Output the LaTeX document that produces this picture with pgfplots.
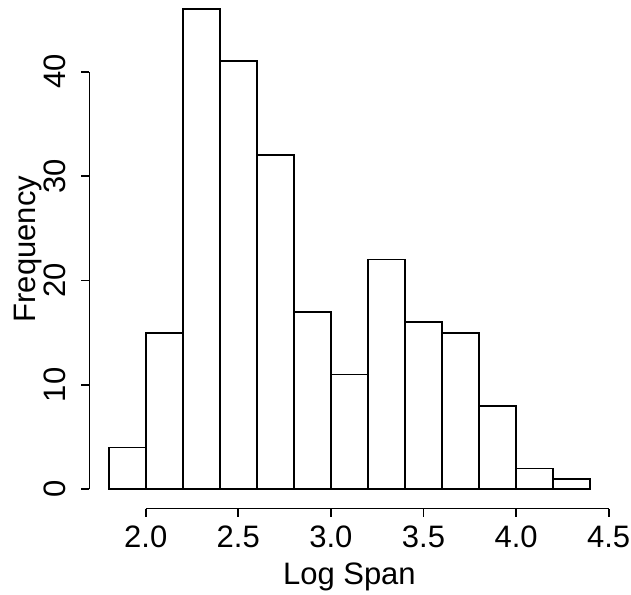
\documentclass[border=0pt]{standalone}
\usepackage{fontspec}
\setmainfont{Liberation Sans}
\usepackage{pgfplots}
\pgfplotsset{compat=1.18}

\begin{document}
\begin{tikzpicture}
\begin{axis}[
    at={(0,0)}, anchor=south west,
    scale only axis,
    width=520pt, height=518.7pt,
    xmin=1.696, xmax=4.504,
    ymin=-1.84, ymax=47.84,
    clip=false,
    axis x line*=bottom, axis y line*=left,
    axis line style={draw=none},
    tick align=outside,
    major tick length=8pt,
    tick style={black, line width=1.7pt},
    xtick={2,2.5,3,3.5,4,4.5},
    ytick={0,10,20,30,40},
    minor tick num=0,
    /pgf/number format/assume math mode=true,
    xticklabel style={font=\fontsize{31}{37}\selectfont, inner sep=0pt, anchor=north, yshift=-9.5pt,
      /pgf/number format/.cd, fixed, fixed zerofill, precision=1},
    yticklabel style={font=\fontsize{31}{37}\selectfont, inner sep=0pt, rotate=90, anchor=base, yshift=15.4pt},
    xlabel={Log Span},
    ylabel={Frequency},
    label style={font=\fontsize{31}{37}\selectfont},
    xlabel style={at={(axis description cs:0.5,0)}, anchor=base, inner sep=0pt, yshift=-76.3pt},
    ylabel style={at={(axis description cs:-0.1046,0.5)}, anchor=base, inner sep=0pt},
]
% histogram counts, bins of width 0.2 from 1.8 to 4.4
\addplot[ybar interval, draw=black, fill=white, line width=1.7pt] coordinates {
  (1.8,4) (2.0,15) (2.2,46) (2.4,41) (2.6,32) (2.8,17) (3.0,11)
  (3.2,22) (3.4,16) (3.6,15) (3.8,8) (4.0,2) (4.2,1) (4.4,1)};
\draw[line width=1.7pt] (axis cs:2,-1.84) -- (axis cs:4.5,-1.84);
\draw[line width=1.7pt] (axis cs:1.696,0) -- (axis cs:1.696,40);
\end{axis}
\pgfresetboundingbox
\useasboundingbox (-89.4pt,-85.5pt) rectangle (541.6pt,508.5pt);
\end{tikzpicture}
\end{document}
